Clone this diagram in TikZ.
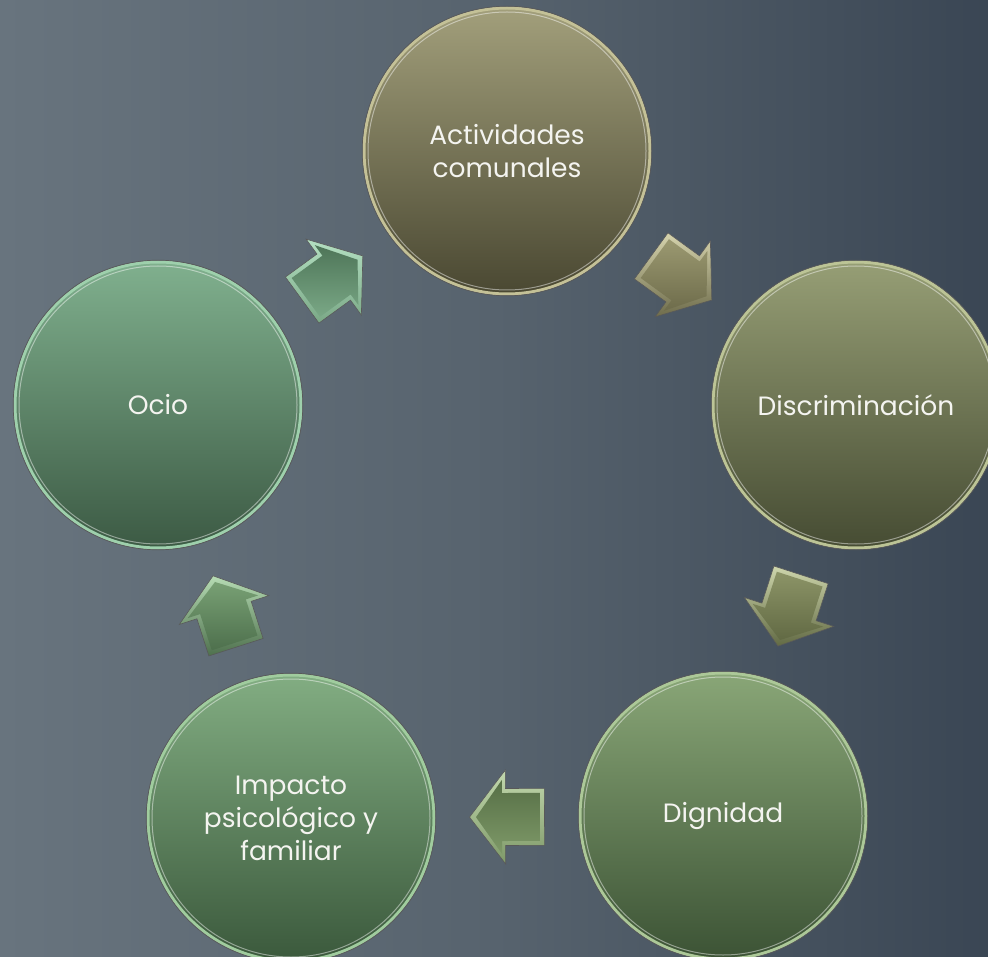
\documentclass[tikz,border=0pt]{standalone}
\usepackage{fontspec}
\setmainfont{Poppins}
\usetikzlibrary{calc}
\definecolor{bgL}{HTML}{68747E}
\definecolor{bgM}{HTML}{57636E}
\definecolor{bgR}{HTML}{3A4654}
\definecolor{txt}{HTML}{F4F4F0}
% circle colours
\definecolor{c1t}{HTML}{A29F7B}\definecolor{c1b}{HTML}{4A4832}\definecolor{c1r}{HTML}{C4C197}
\definecolor{c2t}{HTML}{969E75}\definecolor{c2b}{HTML}{464C33}\definecolor{c2r}{HTML}{BCC496}
\definecolor{c3t}{HTML}{89A677}\definecolor{c3b}{HTML}{3C5335}\definecolor{c3r}{HTML}{ACC898}
\definecolor{c4t}{HTML}{82AD82}\definecolor{c4b}{HTML}{3B593C}\definecolor{c4r}{HTML}{A0CC9E}
\definecolor{c5t}{HTML}{80B08E}\definecolor{c5b}{HTML}{3C5A44}\definecolor{c5r}{HTML}{9ED0AC}
% arrow colours
\definecolor{a1r}{HTML}{D6D4AE}\definecolor{a1t}{HTML}{9B9971}\definecolor{a1b}{HTML}{6E6C4B}
\definecolor{a2r}{HTML}{CED6AC}\definecolor{a2t}{HTML}{8C9467}\definecolor{a2b}{HTML}{626A44}
\definecolor{a3r}{HTML}{C2D8AE}\definecolor{a3t}{HTML}{7E9968}\definecolor{a3b}{HTML}{566F46}
\definecolor{a4r}{HTML}{B6DCB4}\definecolor{a4t}{HTML}{78A074}\definecolor{a4b}{HTML}{4E704D}
\definecolor{a5r}{HTML}{B4E0C2}\definecolor{a5t}{HTML}{7AA886}\definecolor{a5b}{HTML}{4E7558}
\begin{document}
\begin{tikzpicture}[x=1pt,y=-1pt,
  bubble/.style={circle, minimum size=286pt, inner sep=0pt, align=center,
    text=txt, font=\fontsize{26.5}{33}\selectfont, line width=3pt},
  ring/.style={draw=black!65, line width=0.7pt},
  gloss/.style={draw=white, draw opacity=0.45, line width=1pt},
  pics/barrow/.style n args={3}{code={
    \shade[top color=#1, bottom color=#3, draw=black!65, line width=0.6pt]
      (-37.5pt,-28.5pt) -- (1.5pt,-28.5pt) -- (1.5pt,-47pt) -- (37.5pt,0pt)
      -- (1.5pt,47pt) -- (1.5pt,28.5pt) -- (-37.5pt,28.5pt) -- cycle;
    \shade[top color=#2, bottom color=#3]
      (-33pt,-24pt) -- (5pt,-24pt) -- (5pt,-37pt) -- (31pt,0pt)
      -- (5pt,37pt) -- (5pt,24pt) -- (-33pt,24pt) -- cycle;
  }}]
\useasboundingbox (0,0) rectangle (988,957);
\clip (0,0) rectangle (988,957);
\shade[left color=bgL, right color=bgR, middle color=bgM] (0,0) rectangle (988,957);

\node[bubble, top color=c1t, bottom color=c1b, draw=c1r] (act) at (507,151) {Actividades\\comunales};
\node[bubble, top color=c2t, bottom color=c2b, draw=c2r] (dis) at (856,405) {Discriminación};
\node[bubble, top color=c3t, bottom color=c3b, draw=c3r] (dig) at (723,816) {Dignidad};
\node[bubble, top color=c4t, bottom color=c4b, draw=c4r] (imp) at (291,818) {Impacto\\psicológico y\\familiar};
\node[bubble, top color=c5t, bottom color=c5b, draw=c5r] (oci) at (158,405) {Ocio};
\foreach \n in {act,dis,dig,imp,oci}{
  \draw[ring] (\n.center) circle[radius=144.8pt];
  \draw[gloss] (\n.center) circle[radius=139pt];
}

\path let \p1=($(dis)-(act)$), \n1={atan2(\y1,\x1)} in
  ($(act)!0.5!(dis)$) pic[rotate=\n1] {barrow={a1r}{a1t}{a1b}};
\path let \p1=($(dig)-(dis)$), \n1={atan2(\y1,\x1)} in
  ($(dis)!0.5!(dig)$) pic[rotate=\n1] {barrow={a2r}{a2t}{a2b}};
\path let \p1=($(imp)-(dig)$), \n1={atan2(\y1,\x1)} in
  ($(dig)!0.5!(imp)$) pic[rotate=\n1] {barrow={a3r}{a3b}{a3t}};
\path let \p1=($(oci)-(imp)$), \n1={atan2(\y1,\x1)} in
  ($(imp)!0.5!(oci)$) pic[rotate=\n1] {barrow={a4r}{a4t}{a4b}};
\path let \p1=($(act)-(oci)$), \n1={atan2(\y1,\x1)} in
  ($(oci)!0.5!(act)$) pic[rotate=\n1] {barrow={a5r}{a5b}{a5t}};
\end{tikzpicture}
\end{document}
